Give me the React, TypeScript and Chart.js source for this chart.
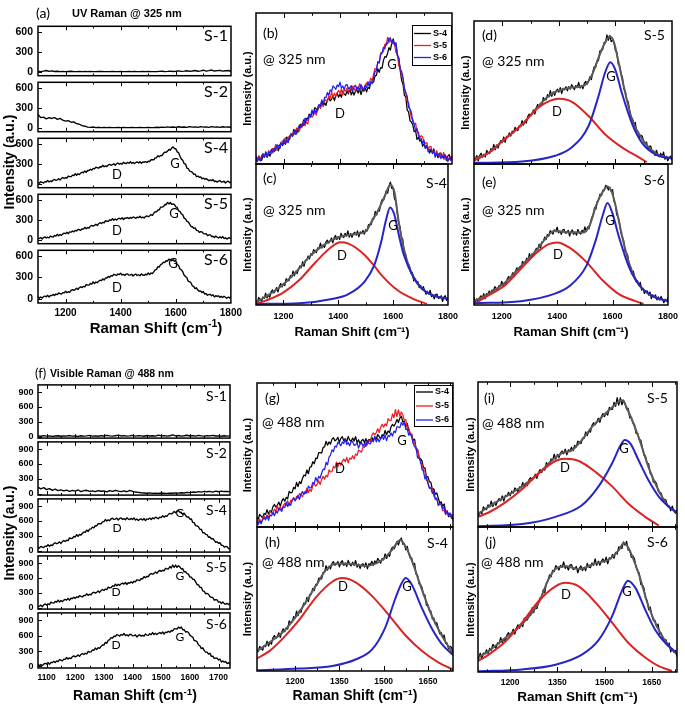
import React, { useEffect, useRef } from "react";
import { Chart, registerables } from "chart.js";

Chart.register(...registerables);

/* ======================= DATA ======================= */
// Raman-shift sampling of the measured spectra (cm^-1)
const UV_START = 1100;
const VIS_START = 1070;
const STEP_FINE = 5;
const STEP_COARSE = 10;

// Tick values
const UV_X_TICKS = [1200, 1400, 1600, 1800];
const UV_X_MINOR = [1300, 1500, 1700];
const UV_Y_TICKS = [0, 300, 600];
const VIS_STACK_X_TICKS = [1100, 1200, 1300, 1400, 1500, 1600, 1700];
const VIS_STACK_X_MINOR = [1150, 1250, 1350, 1450, 1550, 1650];
const VIS_Y_TICKS = [0, 300, 600, 900];
const VIS_FIT_X_TICKS = [1200, 1350, 1500, 1650];
const VIS_FIT_X_MINOR = [1125, 1275, 1425, 1575, 1725];

// UV (325 nm) spectra, counts
const UV_S1 = [6, 2, 9, 18, 4, 12, 3, 7, 1, 4, 0, 3, 6, 1, 2, 5, 0, 3, 1, 4, 2, 0, 3, 5, 1, 2, 0, 4, 2, 1, 3, 0, 2, 5, 1, 3, 0, 2, 4, 1, 3, 0, 2, 1, 4, 6, 2, 5, 9, 3, 7, 12, 4, 8, 14, 6, 11, 18, 7, 13, 22, 9, 16, 25, 10, 15, 20, 8, 14, 18, 6];
const UV_S2 = [200, 150, 158, 132, 150, 138, 152, 125, 140, 112, 98, 105, 82, 88, 60, 52, 30, 22, 8, 4, 10, 2, 6, 0, 4, 1, 3, 0, 2, 5, 1, 3, 0, 2, 4, 1, 0, 3, 2, 1, 4, 0, 2, 6, 3, 9, 4, 12, 6, 10, 5, 14, 7, 11, 4, 15, 8, 12, 5, 16, 9, 13, 6, 17, 8, 12, 5, 14, 9, 11, 7];
const UV_S4 = [
  16, 7, 29, 20, 11, 31, 25, 49, 27, 41,
  30, 55, 63, 50, 58, 74, 54, 79, 92, 77,
  92, 83, 115, 105, 105, 128, 120, 149, 127, 148,
  137, 158, 172, 164, 191, 170, 198, 197, 217, 204,
  228, 221, 246, 240, 232, 254, 250, 275, 253, 267,
  256, 281, 289, 276, 284, 299, 277, 300, 310, 292,
  305, 292, 320, 306, 301, 320, 307, 331, 303, 319,
  302, 318, 325, 311, 331, 304, 326, 319, 333, 316,
  336, 331, 359, 359, 359, 387, 389, 419, 403, 424,
  421, 455, 473, 470, 488, 513, 502, 534, 552, 524,
  523, 476, 465, 411, 368, 350, 301, 294, 235, 227,
  187, 182, 169, 139, 143, 104, 114, 97, 101, 74,
  84, 65, 78, 61, 44, 57, 45, 62, 33, 40,
  23, 42, 44, 25, 28, 37, 11, 30, 37, 16,
  27,
];
const UV_S5 = [
  13, 19, 32, 9, 32, 42, 25, 38, 26, 55,
  42, 40, 62, 53, 81, 57, 78, 65, 86, 98,
  89, 113, 90, 116, 113, 131, 117, 139, 131, 155,
  149, 141, 163, 159, 185, 165, 182, 174, 202, 213,
  203, 213, 231, 213, 240, 255, 242, 260, 252, 285,
  276, 275, 298, 288, 316, 291, 310, 295, 313, 322,
  309, 329, 303, 326, 319, 333, 315, 333, 322, 342,
  332, 320, 338, 330, 352, 327, 338, 324, 347, 356,
  344, 357, 377, 364, 396, 420, 417, 445, 447, 489,
  489, 496, 527, 524, 559, 536, 557, 530, 537, 525,
  491, 484, 431, 424, 388, 372, 323, 313, 274, 268,
  232, 198, 194, 171, 177, 139, 137, 111, 121, 116,
  91, 87, 91, 59, 72, 73, 47, 52, 32, 55,
  36, 27, 42, 26, 47, 16, 29, 9, 23, 29,
  13,
];
const UV_S6 = [
  32, 6, 24, 9, 28, 38, 26, 48, 24, 48,
  44, 61, 45, 66, 58, 81, 73, 64, 86, 81,
  106, 84, 99, 90, 118, 128, 118, 128, 146, 128,
  155, 169, 156, 174, 166, 199, 190, 190, 214, 206,
  236, 213, 235, 224, 246, 260, 253, 280, 261, 291,
  291, 313, 301, 325, 318, 343, 336, 327, 347, 339,
  359, 333, 342, 326, 346, 349, 331, 334, 344, 318,
  338, 346, 326, 337, 322, 349, 333, 327, 345, 334,
  361, 339, 361, 352, 377, 405, 412, 451, 444, 480,
  488, 514, 507, 533, 530, 555, 550, 533, 546, 526,
  535, 482, 466, 418, 407, 381, 334, 312, 297, 246,
  240, 225, 182, 174, 141, 153, 122, 104, 109, 86,
  101, 65, 73, 49, 59, 61, 41, 56, 25, 43,
  32, 42, 19, 33, 18, 35, 21, 6, 22, 11,
  30,
];

// Visible (488 nm) spectra, counts
const VIS_S1 = [12, 5, 18, 8, 14, 3, 10, 16, 6, 12, 9, 20, 7, 11, 4, 15, 8, 13, 22, 9, 14, 6, 18, 10, 25, 12, 8, 16, 30, 11, 19, 7, 14, 24, 9, 17, 12, 6, 21, 10, 15, 8, 28, 13, 18, 9, 16, 33, 12, 20, 8, 15, 26, 11, 17, 7, 22, 13, 9, 18, 12, 24, 10, 14, 6, 16, 9, 12];
const VIS_S2 = [130, 95, 120, 80, 100, 65, 88, 60, 75, 52, 68, 45, 62, 50, 72, 40, 58, 66, 44, 55, 38, 60, 46, 52, 35, 58, 42, 65, 48, 40, 55, 36, 62, 45, 30, 22, 15, 10, 6, 12, 4, 8, 2, 10, 5, 3, 9, 6, 12, 8, 15, 10, 22, 18, 30, 25, 38, 28, 45, 35, 42, 30, 48, 36, 50, 40, 45, 38];
const VIS_S4 = [
  62, 48, 83, 71, 58, 90, 82, 119, 86, 112,
  100, 141, 157, 138, 152, 175, 144, 182, 202, 182,
  210, 200, 255, 243, 247, 284, 274, 321, 290, 327,
  313, 350, 376, 369, 414, 386, 434, 438, 475, 460,
  502, 498, 543, 542, 539, 582, 585, 627, 598, 622,
  606, 643, 654, 630, 638, 656, 619, 649, 661, 630,
  646, 622, 663, 637, 627, 651, 629, 662, 617, 638,
  609, 631, 641, 618, 647, 606, 641, 633, 657, 630,
  660, 644, 677, 662, 645, 676, 667, 707, 676, 703,
  691, 735, 753, 740, 759, 790, 766, 799, 813, 771,
  775, 734, 758, 711, 679, 680, 634, 642, 570, 563,
  505, 499, 481, 429, 430, 360, 364, 327, 322, 269,
  274, 234, 243, 206, 168, 177, 145, 160, 104, 105,
  67, 85, 77, 38, 32,
];
const VIS_S5 = [
  16, 27, 49, 17, 54, 73, 50, 75, 60, 109,
  93, 90, 123, 108, 149, 111, 141, 119, 149, 166,
  150, 185, 149, 188, 183, 209, 185, 217, 204, 239,
  228, 214, 247, 240, 278, 246, 270, 255, 296, 310,
  293, 308, 334, 305, 344, 366, 346, 374, 362, 414,
  400, 402, 440, 428, 473, 438, 470, 449, 479, 494,
  475, 507, 467, 502, 494, 520, 496, 532, 522, 562,
  555, 546, 583, 582, 626, 601, 632, 624, 671, 689,
  675, 692, 720, 692, 732, 753, 732, 757, 742, 795,
  782, 781, 830, 802, 862, 811, 860, 813, 845, 824,
  781, 788, 722, 727, 687, 677, 616, 617, 572, 569,
  518, 466, 459, 410, 406, 339, 327, 279, 286, 269,
  219, 206, 204, 148, 161, 156, 110, 116, 82, 114,
  80, 65, 85, 59, 89,
];
const VIS_S6 = [
  47, 8, 36, 14, 43, 60, 43, 77, 40, 78,
  72, 98, 74, 107, 94, 131, 120, 107, 141, 135,
  174, 142, 166, 151, 191, 204, 186, 200, 225, 195,
  233, 253, 232, 257, 242, 294, 280, 283, 321, 312,
  359, 329, 366, 353, 391, 420, 416, 470, 452, 510,
  524, 563, 551, 591, 584, 620, 609, 593, 622, 610,
  643, 603, 618, 593, 623, 626, 597, 600, 615, 576,
  605, 618, 590, 610, 589, 634, 612, 607, 637, 622,
  662, 622, 648, 623, 648, 662, 641, 673, 632, 669,
  662, 689, 666, 702, 692, 736, 733, 727, 767, 747,
  771, 716, 717, 672, 681, 662, 611, 587, 574, 504,
  501, 481, 418, 403, 347, 363, 313, 279, 280, 240,
  257, 195, 201, 156, 163, 160, 124, 140, 85, 106,
  83, 94, 54, 72, 44,
];

// Fits, panel (c): UV S-4 (counts)
const C_FIT_X = [1100, 1150, 1200, 1250, 1300, 1350, 1400, 1450, 1500, 1520, 1545, 1570, 1590, 1605, 1620, 1640, 1665, 1690, 1720, 1760, 1800];
const C_FIT_Y = [8, 44, 89, 150, 220, 270, 302, 315, 328, 370, 423, 490, 540, 505, 375, 245, 145, 90, 55, 33, 24];
const C_D_X = [1100, 1151, 1199, 1258, 1318, 1377, 1407, 1437, 1496, 1532, 1556, 1615, 1675, 1723];
const C_D_Y = [0, 22, 51, 108, 190, 260, 279, 273, 222, 171, 133, 63, 22, 0];
const C_G_X = [1100, 1258, 1377, 1437, 1496, 1532, 1556, 1574, 1589, 1604, 1621, 1639, 1675, 1711, 1746, 1800];
const C_G_Y = [0, 3, 22, 44, 101, 178, 279, 380, 437, 406, 311, 222, 120, 63, 38, 22];

// Fits, panel (d): UV S-5 (counts)
const D_FIT_X = [1100, 1151, 1210, 1269, 1328, 1363, 1390, 1446, 1493, 1517, 1540, 1564, 1580, 1595, 1611, 1635, 1658, 1694, 1741, 1800];
const D_FIT_Y = [19, 43, 105, 167, 248, 291, 312, 329, 341, 384, 459, 527, 552, 527, 440, 304, 192, 105, 43, 19];
const D_D_X = [1100, 1151, 1210, 1269, 1328, 1370, 1400, 1446, 1505, 1564, 1623, 1682, 1711];
const D_D_Y = [10, 43, 105, 167, 242, 272, 280, 267, 205, 124, 68, 25, 3];
const D_G_X = [1100, 1269, 1387, 1446, 1505, 1540, 1564, 1582, 1599, 1623, 1658, 1694, 1741, 1800];
const D_G_Y = [0, 6, 31, 68, 161, 291, 397, 440, 409, 304, 174, 87, 37, 19];

// Fits, panel (e): UV S-6 (counts)
const E_FIT_X = [1100, 1151, 1210, 1269, 1328, 1363, 1390, 1446, 1493, 1517, 1540, 1564, 1582, 1597, 1611, 1635, 1658, 1694, 1741, 1800];
const E_FIT_Y = [13, 46, 98, 177, 255, 314, 341, 334, 334, 367, 459, 524, 550, 524, 459, 314, 197, 92, 39, 13];
const E_D_X = [1100, 1151, 1210, 1269, 1328, 1370, 1400, 1446, 1505, 1564, 1623, 1682, 1712];
const E_D_Y = [0, 39, 85, 164, 242, 280, 288, 262, 197, 111, 46, 13, 0];
const E_G_X = [1100, 1269, 1387, 1446, 1505, 1540, 1564, 1582, 1599, 1623, 1658, 1694, 1741, 1800];
const E_G_Y = [3, 13, 46, 85, 177, 301, 413, 472, 426, 314, 177, 92, 39, 13];

// Fits, panel (h): visible S-4 (envelope in counts, components in a.u.)
const H_FIT_X = [1071, 1114, 1158, 1214, 1270, 1304, 1337, 1382, 1438, 1494, 1528, 1556, 1573, 1595, 1629, 1662, 1696, 1735];
const H_FIT_Y = [53, 112, 179, 315, 490, 597, 640, 640, 626, 664, 732, 800, 761, 664, 470, 296, 160, 34];
const H_D_X = [1071, 1114, 1158, 1214, 1270, 1326, 1360, 1405, 1461, 1517, 1573, 1629, 1685, 1735];
const H_D_Y = [87, 140, 225, 355, 510, 620, 645, 615, 520, 390, 250, 140, 60, 10];
const H_G_X = [1071, 1214, 1326, 1405, 1461, 1505, 1539, 1561, 1575, 1595, 1629, 1662, 1696, 1735];
const H_G_Y = [5, 17, 35, 80, 150, 300, 500, 610, 645, 600, 440, 300, 190, 110];

// Fits, panel (i): visible S-5
const I_FIT_X = [1098, 1132, 1185, 1238, 1291, 1333, 1365, 1397, 1428, 1460, 1492, 1524, 1555, 1576, 1608, 1640, 1672, 1704, 1730];
const I_FIT_Y = [60, 110, 180, 250, 340, 430, 480, 500, 570, 660, 730, 795, 845, 765, 590, 380, 220, 110, 70];
const I_D_X = [1098, 1132, 1185, 1238, 1291, 1344, 1375, 1418, 1471, 1524, 1576, 1629, 1672];
const I_D_Y = [70, 100, 170, 260, 370, 455, 470, 455, 380, 280, 160, 70, 10];
const I_G_X = [1098, 1238, 1344, 1428, 1481, 1524, 1550, 1564, 1582, 1608, 1640, 1672, 1704, 1730];
const I_G_Y = [5, 20, 70, 150, 280, 440, 560, 600, 575, 460, 320, 210, 140, 100];

// Fits, panel (j): visible S-6
const J_FIT_X = [1098, 1132, 1185, 1238, 1291, 1322, 1344, 1375, 1418, 1471, 1513, 1545, 1561, 1576, 1608, 1640, 1672, 1704, 1730];
const J_FIT_Y = [50, 90, 172, 257, 392, 536, 599, 617, 599, 635, 657, 716, 761, 730, 572, 365, 221, 122, 68];
const J_D_X = [1098, 1132, 1185, 1238, 1291, 1344, 1375, 1418, 1471, 1524, 1576, 1629, 1672, 1714];
const J_D_Y = [76, 120, 210, 340, 490, 590, 615, 590, 480, 340, 200, 100, 40, 7];
const J_G_X = [1098, 1238, 1344, 1428, 1481, 1524, 1555, 1574, 1598, 1629, 1661, 1693, 1730];
const J_G_Y = [5, 18, 50, 120, 220, 385, 560, 630, 580, 430, 290, 200, 130];

/* ======================= STYLE ======================= */
const FONT = "'Liberation Sans', Arial, Helvetica, sans-serif";
const LABEL_FONT = "Lato, 'Open Sans', sans-serif";
const BLACK = "#000000";
const FIT_RED = "#dc2323";
const FIT_BLUE = "#2626c8";
const FIT_GRAY = "#5a5a5a";
const OV_RED = "#ee1c24";
const OV_BLUE = "#1f1ff2";
const X_TITLE = "Raman Shift (cm\u207B\u00B9)";
const Y_TITLE = "Intensity (a.u.)";

const grid = (start: number, step: number, ys: number[]) => ys.map((y, i) => ({ x: start + i * step, y }));
const pairs = (xs: number[], ys: number[]) => xs.map((x, i) => ({ x, y: ys[i] }));

const trace = (data: any[], color: string, order: number, label?: string, width = 1.25) => ({
  label: label || "",
  inLegend: !!label,
  data,
  borderColor: color,
  backgroundColor: color,
  borderWidth: width,
  pointRadius: 0,
  tension: 0,
  borderJoinStyle: "round",
  order,
  yAxisID: "y",
});
const curve = (data: any[], color: string, width: number, order: number, axis = "y") => ({
  data,
  borderColor: color,
  backgroundColor: color,
  borderWidth: width,
  pointRadius: 0,
  cubicInterpolationMode: "monotone",
  order,
  yAxisID: axis,
});

/* ======================= PLUGINS ======================= */
const frameTicks = {
  id: "frameTicks",
  afterDatasetsDraw(chart: any, _args: any, opts: any) {
    const { ctx, chartArea: a, scales } = chart;
    const xs = scales.x;
    const ys = scales.y;
    const len = opts.len || 4;
    ctx.save();
    ctx.strokeStyle = "#000";
    ctx.lineWidth = 1;
    ctx.beginPath();
    const vx = (vals: number[], l: number) => {
      (vals || []).forEach((v) => {
        const p = Math.round(xs.getPixelForValue(v)) + 0.5;
        if (p < a.left || p > a.right) return;
        ctx.moveTo(p, a.bottom);
        ctx.lineTo(p, a.bottom - l);
        ctx.moveTo(p, a.top);
        ctx.lineTo(p, a.top + l);
      });
    };
    vx(opts.xMajor, len);
    vx(opts.xMinor, len * 0.55);
    (opts.yMajor || []).forEach((v: number) => {
      const p = Math.round(ys.getPixelForValue(v)) + 0.5;
      if (p < a.top || p > a.bottom) return;
      ctx.moveTo(a.left, p);
      ctx.lineTo(a.left + len, p);
    });
    ctx.stroke();
    ctx.lineWidth = 1.5;
    ctx.strokeRect(a.left, a.top, a.right - a.left, a.bottom - a.top);
    ctx.restore();
  },
};

const insetLegend = {
  id: "insetLegend",
  afterDatasetsDraw(chart: any, _args: any, opts: any) {
    if (!opts || !opts.display) return;
    const { ctx, chartArea: a } = chart;
    const items = chart.data.datasets.filter((d: any) => d.inLegend);
    const w = opts.width;
    const h = opts.rowH * items.length + opts.pad * 2;
    const left = a.right - w;
    const top = a.top + opts.offsetTop;
    ctx.save();
    ctx.fillStyle = "#fff";
    ctx.fillRect(left, top, w, h);
    ctx.strokeStyle = "#000";
    ctx.lineWidth = 1;
    ctx.strokeRect(left + 0.5, top + 0.5, w - 1, h - 1);
    ctx.font = `bold 9px ${FONT}`;
    ctx.textBaseline = "middle";
    items.forEach((d: any, i: number) => {
      const cy = top + opts.pad + opts.rowH * (i + 0.5);
      ctx.strokeStyle = d.borderColor;
      ctx.lineWidth = 1.3;
      ctx.beginPath();
      ctx.moveTo(left + 2, cy);
      ctx.lineTo(left + 19, cy);
      ctx.stroke();
      ctx.fillStyle = "#000";
      ctx.fillText(d.label, left + 21, cy);
    });
    ctx.restore();
  },
};

/* ======================= PANELS ======================= */
type AxisDef = {
  min: number;
  max: number;
  labels?: number[];
  major?: number[];
  minor?: number[];
  font?: number;
  pad?: number;
  size?: number;
  title?: string;
  titleSize?: number;
};
type PanelDef = {
  id: string;
  box: { l: number; t: number; w: number; h: number };
  m: { l: number; t: number; r: number; b: number };
  x: AxisDef;
  y: AxisDef;
  fit?: { min: number; max: number };
  datasets: any[];
  legend?: { offsetTop: number; width: number; rowH: number; pad: number };
};

function buildConfig(d: PanelDef): any {
  const xShow = !!(d.x.labels || d.x.title);
  const yShow = !!(d.y.labels || d.y.title);
  const axis = (ax: AxisDef, horizontal: boolean, show: boolean) => {
    const o: any = {
      type: "linear",
      min: ax.min,
      max: ax.max,
      display: show,
      grid: { display: false, drawTicks: false },
      border: { display: false },
      ticks: {
        display: !!ax.labels,
        padding: ax.pad ?? 4,
        color: "#000",
        autoSkip: false,
        maxRotation: 0,
        font: { family: FONT, size: ax.font ?? 9, weight: "bold" },
        callback: (v: any) => String(v),
      },
      title: {
        display: !!ax.title,
        text: ax.title || "",
        color: "#000",
        padding: 0,
        font: { family: FONT, size: ax.titleSize ?? 11, weight: "bold" },
      },
    };
    if (ax.labels) {
      const vals = ax.labels;
      o.afterBuildTicks = (s: any) => {
        s.ticks = vals.map((v) => ({ value: v }));
      };
    }
    if (horizontal) {
      o.position = "bottom";
      o.afterFit = (s: any) => {
        s.height = show ? ax.size ?? 0 : 0;
      };
    } else {
      o.position = "left";
      o.afterFit = (s: any) => {
        s.width = show ? ax.size ?? 0 : 0;
      };
    }
    return o;
  };
  const scales: any = { x: axis(d.x, true, xShow), y: axis(d.y, false, yShow) };
  if (d.fit) scales.yFit = { type: "linear", display: false, min: d.fit.min, max: d.fit.max };
  return {
    type: "line",
    data: { datasets: d.datasets },
    options: {
      animation: false,
      responsive: false,
      maintainAspectRatio: false,
      devicePixelRatio: 1,
      events: [],
      layout: {
        padding: {
          left: d.m.l - (yShow ? d.y.size ?? 0 : 0),
          top: d.m.t,
          right: d.m.r,
          bottom: d.m.b - (xShow ? d.x.size ?? 0 : 0),
        },
      },
      plugins: {
        legend: { display: false },
        tooltip: { enabled: false },
        frameTicks: { xMajor: d.x.major, xMinor: d.x.minor, yMajor: d.y.major, len: d.box.h > 80 ? 5 : 4 },
        insetLegend: d.legend ? { display: true, ...d.legend } : { display: false },
      },
      scales,
    },
    plugins: [frameTicks, insetLegend],
  };
}

// ---- (a) UV stack ----
const A_SERIES = [
  grid(UV_START, STEP_COARSE, UV_S1),
  grid(UV_START, STEP_COARSE, UV_S2),
  grid(UV_START, STEP_FINE, UV_S4),
  grid(UV_START, STEP_FINE, UV_S5),
  grid(UV_START, STEP_FINE, UV_S6),
];
const A_TOPS = [23, 79, 135, 191, 247];
const stackA: PanelDef[] = A_SERIES.map((data, i) => {
  const last = i === A_SERIES.length - 1;
  return {
    id: "a" + i,
    box: { l: 38, t: A_TOPS[i], w: 193, h: 56 },
    m: { l: 38, t: 8, r: 15, b: last ? 18 : 8 },
    x: { min: 1100, max: 1800, major: UV_X_TICKS, minor: UV_X_MINOR, labels: last ? UV_X_TICKS : undefined, font: 10, pad: 4, size: 16 },
    y: { min: -60, max: 680, labels: UV_Y_TICKS, major: UV_Y_TICKS, font: 10.5, pad: 5, size: 30 },
    datasets: [trace(data, BLACK, 1, undefined, 1.35)],
  };
});

// ---- (f) visible stack ----
const F_SERIES = [
  grid(VIS_START, STEP_COARSE, VIS_S1),
  grid(VIS_START, STEP_COARSE, VIS_S2),
  grid(VIS_START, STEP_FINE, VIS_S4),
  grid(VIS_START, STEP_FINE, VIS_S5),
  grid(VIS_START, STEP_FINE, VIS_S6),
];
const F_TOPS = [383, 440, 497, 554, 611];
const stackF: PanelDef[] = F_SERIES.map((data, i) => {
  const last = i === F_SERIES.length - 1;
  return {
    id: "f" + i,
    box: { l: 38, t: F_TOPS[i], w: 192, h: 57 },
    m: { l: 38, t: 8, r: 12, b: last ? 16 : 8 },
    x: { min: 1070, max: 1740, major: VIS_STACK_X_TICKS, minor: VIS_STACK_X_MINOR, labels: last ? VIS_STACK_X_TICKS : undefined, font: 8.5, pad: 4.5, size: 14 },
    y: { min: -32, max: 1046, labels: VIS_Y_TICKS, major: VIS_Y_TICKS, font: 9, pad: 4.5, size: 30 },
    datasets: [trace(data, BLACK, 1, undefined, 1.35)],
  };
});

const uvX = { min: 1100, max: 1800, major: UV_X_TICKS, minor: UV_X_MINOR };
const uvXLab = { ...uvX, labels: UV_X_TICKS, font: 9, pad: 6, size: 35, title: X_TITLE, titleSize: 13 };

const fitPanels: PanelDef[] = [
  {
    id: "b",
    box: { l: 256, t: 13, w: 196, h: 151 },
    m: { l: 16, t: 4, r: 8, b: 4 },
    x: uvX,
    y: { min: -5, max: 667, size: 15, title: Y_TITLE, titleSize: 11 },
    datasets: [
      trace(grid(UV_START, STEP_FINE, UV_S4), BLACK, 3, "S-4"),
      trace(grid(UV_START, STEP_FINE, UV_S5), OV_RED, 2, "S-5"),
      trace(grid(UV_START, STEP_FINE, UV_S6), OV_BLUE, 1, "S-6"),
    ],
    legend: { offsetTop: 12, width: 40, rowH: 12, pad: 2.5 },
  },
  {
    id: "c",
    box: { l: 256, t: 164, w: 196, h: 141 },
    m: { l: 16, t: 4, r: 12, b: 36 },
    x: uvXLab,
    y: { min: -5, max: 634, size: 15, title: Y_TITLE, titleSize: 11 },
    datasets: [
      trace(grid(UV_START, STEP_FINE, UV_S4), BLACK, 4),
      curve(pairs(C_FIT_X, C_FIT_Y), FIT_GRAY, 2, 3),
      curve(pairs(C_D_X, C_D_Y), FIT_RED, 2, 2),
      curve(pairs(C_G_X, C_G_Y), FIT_BLUE, 2, 1),
    ],
  },
  {
    id: "d",
    box: { l: 474, t: 21, w: 198, h: 143 },
    m: { l: 16, t: 4, r: 12, b: 4 },
    x: uvX,
    y: { min: -5, max: 620, size: 15, title: Y_TITLE, titleSize: 11 },
    datasets: [
      trace(grid(UV_START, STEP_FINE, UV_S5), BLACK, 4),
      curve(pairs(D_FIT_X, D_FIT_Y), FIT_GRAY, 2, 3),
      curve(pairs(D_D_X, D_D_Y), FIT_RED, 2, 2),
      curve(pairs(D_G_X, D_G_Y), FIT_BLUE, 2, 1),
    ],
  },
  {
    id: "e",
    box: { l: 474, t: 164, w: 198, h: 141 },
    m: { l: 16, t: 4, r: 12, b: 36 },
    x: uvXLab,
    y: { min: -5, max: 655, size: 15, title: Y_TITLE, titleSize: 11 },
    datasets: [
      trace(grid(UV_START, STEP_FINE, UV_S6), BLACK, 4),
      curve(pairs(E_FIT_X, E_FIT_Y), FIT_GRAY, 2, 3),
      curve(pairs(E_D_X, E_D_Y), FIT_RED, 2, 2),
      curve(pairs(E_G_X, E_G_Y), FIT_BLUE, 2, 1),
    ],
  },
  {
    id: "g",
    box: { l: 257, t: 383, w: 196, h: 144 },
    m: { l: 17, t: 4, r: 8, b: 4 },
    x: { min: 1071, max: 1735, major: VIS_FIT_X_TICKS, minor: VIS_FIT_X_MINOR },
    y: { min: -10, max: 1060, size: 16, title: Y_TITLE, titleSize: 11 },
    datasets: [
      trace(grid(VIS_START, STEP_FINE, VIS_S4), BLACK, 3, "S-4"),
      trace(grid(VIS_START, STEP_FINE, VIS_S5), OV_RED, 2, "S-5"),
      trace(grid(VIS_START, STEP_FINE, VIS_S6), OV_BLUE, 1, "S-6"),
    ],
    legend: { offsetTop: 2, width: 39, rowH: 14, pad: 0 },
  },
  {
    id: "h",
    box: { l: 257, t: 527, w: 196, h: 144 },
    m: { l: 17, t: 4, r: 8, b: 35 },
    x: { min: 1071, max: 1735, major: VIS_FIT_X_TICKS, minor: VIS_FIT_X_MINOR, labels: VIS_FIT_X_TICKS, font: 8.5, pad: 6, size: 34, title: X_TITLE, titleSize: 14 },
    y: { min: -82, max: 888, size: 16, title: Y_TITLE, titleSize: 11 },
    fit: { min: 0, max: 1000 },
    datasets: [
      trace(grid(VIS_START, STEP_FINE, VIS_S4), BLACK, 4),
      curve(pairs(H_FIT_X, H_FIT_Y), FIT_GRAY, 2, 3),
      curve(pairs(H_D_X, H_D_Y), FIT_RED, 2, 2, "yFit"),
      curve(pairs(H_G_X, H_G_Y), FIT_BLUE, 2, 1, "yFit"),
    ],
  },
  {
    id: "i",
    box: { l: 478, t: 382, w: 199, h: 145 },
    m: { l: 15, t: 4, r: 7, b: 4 },
    x: { min: 1098, max: 1730, major: VIS_FIT_X_TICKS, minor: VIS_FIT_X_MINOR },
    y: { min: -30, max: 970, size: 14, title: Y_TITLE, titleSize: 11 },
    fit: { min: 0, max: 1000 },
    datasets: [
      trace(grid(VIS_START, STEP_FINE, VIS_S5), BLACK, 4),
      curve(pairs(I_FIT_X, I_FIT_Y), FIT_GRAY, 2, 3),
      curve(pairs(I_D_X, I_D_Y), FIT_RED, 2, 2, "yFit"),
      curve(pairs(I_G_X, I_G_Y), FIT_BLUE, 2, 1, "yFit"),
    ],
  },
  {
    id: "j",
    box: { l: 478, t: 527, w: 199, h: 145 },
    m: { l: 15, t: 4, r: 7, b: 33 },
    x: { min: 1098, max: 1730, major: VIS_FIT_X_TICKS, minor: VIS_FIT_X_MINOR, labels: VIS_FIT_X_TICKS, font: 8.5, pad: 5.5, size: 33, title: X_TITLE, titleSize: 13.5 },
    y: { min: -40, max: 860, size: 14, title: Y_TITLE, titleSize: 11 },
    fit: { min: 0, max: 1000 },
    datasets: [
      trace(grid(VIS_START, STEP_FINE, VIS_S6), BLACK, 4),
      curve(pairs(J_FIT_X, J_FIT_Y), FIT_GRAY, 2, 3),
      curve(pairs(J_D_X, J_D_Y), FIT_RED, 2, 2, "yFit"),
      curve(pairs(J_G_X, J_G_Y), FIT_BLUE, 2, 1, "yFit"),
    ],
  },
];

const PANELS: PanelDef[] = [...stackA, ...stackF, ...fitPanels];

/* ======================= TEXT ANNOTATIONS ======================= */
type Note = { t: string; x: number; y: number; s: number; a?: "l" | "c" | "r"; b?: boolean; f?: string; rot?: boolean; sup?: string };
const NOTES: Note[] = [
  { t: "(a)", x: 36, y: 13, s: 14 },
  { t: "UV Raman @ 325 nm", x: 72, y: 13, s: 11, b: true, f: FONT },
  { t: "S-1", x: 228, y: 35, s: 16, a: "r" },
  { t: "S-2", x: 228, y: 91, s: 16, a: "r" },
  { t: "S-4", x: 228, y: 147, s: 16, a: "r" },
  { t: "S-5", x: 228, y: 203, s: 16, a: "r" },
  { t: "S-6", x: 228, y: 259, s: 16, a: "r" },
  { t: "D", x: 117, y: 174, s: 13, a: "c" },
  { t: "G", x: 175, y: 163, s: 13, a: "c" },
  { t: "D", x: 117, y: 230, s: 13, a: "c" },
  { t: "G", x: 174, y: 213, s: 13, a: "c" },
  { t: "D", x: 117, y: 287, s: 13, a: "c" },
  { t: "G", x: 173, y: 263, s: 13, a: "c" },
  { t: "Intensity (a.u.)", x: 9, y: 162, s: 14, b: true, f: FONT, rot: true },
  { t: "Raman Shift (cm", sup: "-1", x: 156, y: 327, s: 15, b: true, f: FONT, a: "c" },

  { t: "(b)", x: 263, y: 33, s: 14 },
  { t: "@ 325 nm", x: 263, y: 59, s: 14 },
  { t: "D", x: 340, y: 113, s: 13, a: "c" },
  { t: "G", x: 392, y: 64, s: 13, a: "c" },
  { t: "(c)", x: 263, y: 178, s: 14 },
  { t: "@ 325 nm", x: 263, y: 210, s: 14 },
  { t: "S-4", x: 447, y: 183, s: 14, a: "r" },
  { t: "D", x: 342, y: 255, s: 13, a: "c" },
  { t: "G", x: 393, y: 225, s: 13, a: "c" },
  { t: "(d)", x: 482, y: 35, s: 14 },
  { t: "@ 325 nm", x: 482, y: 61, s: 14 },
  { t: "S-5", x: 665, y: 35, s: 14, a: "r" },
  { t: "D", x: 557, y: 111, s: 13, a: "c" },
  { t: "G", x: 611, y: 76, s: 13, a: "c" },
  { t: "(e)", x: 482, y: 182, s: 14 },
  { t: "@ 325 nm", x: 482, y: 210, s: 14 },
  { t: "S-6", x: 665, y: 180, s: 14, a: "r" },
  { t: "D", x: 558, y: 254, s: 13, a: "c" },
  { t: "G", x: 610, y: 220, s: 13, a: "c" },

  { t: "(f)", x: 35, y: 373, s: 13 },
  { t: "Visible Raman @ 488 nm", x: 50, y: 373, s: 10.5, b: true, f: FONT },
  { t: "S-1", x: 227, y: 396, s: 14, a: "r" },
  { t: "S-2", x: 227, y: 453, s: 14, a: "r" },
  { t: "S-4", x: 227, y: 510, s: 14, a: "r" },
  { t: "S-5", x: 227, y: 567, s: 14, a: "r" },
  { t: "S-6", x: 227, y: 624, s: 14, a: "r" },
  { t: "D", x: 117, y: 528, s: 12, a: "c" },
  { t: "G", x: 180, y: 513, s: 12, a: "c" },
  { t: "D", x: 116, y: 592, s: 12, a: "c" },
  { t: "G", x: 180, y: 576, s: 12, a: "c" },
  { t: "D", x: 116, y: 645, s: 12, a: "c" },
  { t: "G", x: 180, y: 637, s: 12, a: "c" },
  { t: "Intensity (a.u.)", x: 9, y: 533, s: 14, b: true, f: FONT, rot: true },
  { t: "Raman Shift (cm", sup: "-1", x: 135, y: 695, s: 14, b: true, f: FONT, a: "c" },

  { t: "(g)", x: 265, y: 398, s: 14 },
  { t: "@ 488 nm", x: 262, y: 422, s: 14 },
  { t: "D", x: 340, y: 468, s: 13, a: "c" },
  { t: "G", x: 402, y: 440, s: 13, a: "c" },
  { t: "(h)", x: 265, y: 542, s: 14 },
  { t: "@ 488 nm", x: 262, y: 562, s: 14 },
  { t: "S-4", x: 448, y: 543, s: 14, a: "r" },
  { t: "D", x: 343, y: 586, s: 13, a: "c" },
  { t: "G", x: 407, y: 586, s: 13, a: "c" },
  { t: "(i)", x: 484, y: 398, s: 14 },
  { t: "@ 488 nm", x: 482, y: 423, s: 14 },
  { t: "S-5", x: 668, y: 398, s: 14, a: "r" },
  { t: "D", x: 565, y: 467, s: 13, a: "c" },
  { t: "G", x: 624, y: 448, s: 13, a: "c" },
  { t: "(j)", x: 485, y: 542, s: 14 },
  { t: "@ 488 nm", x: 481, y: 562, s: 14 },
  { t: "S-6", x: 668, y: 542, s: 14, a: "r" },
  { t: "D", x: 566, y: 594, s: 13, a: "c" },
  { t: "G", x: 627, y: 591, s: 13, a: "c" },
];

function Panel({ def }: { def: PanelDef }) {
  const ref = useRef<HTMLCanvasElement>(null);
  useEffect(() => {
    if (!ref.current) return;
    const chart = new Chart(ref.current, buildConfig(def));
    return () => chart.destroy();
  }, [def]);
  const W = def.box.w + def.m.l + def.m.r;
  const H = def.box.h + def.m.t + def.m.b;
  return (
    <canvas
      ref={ref}
      width={W}
      height={H}
      style={{ position: "absolute", left: def.box.l - def.m.l, top: def.box.t - def.m.t, width: W, height: H }}
    />
  );
}

function NoteText({ n }: { n: Note }) {
  const a = n.a || "l";
  let transform = a === "l" ? "translate(0,-50%)" : a === "c" ? "translate(-50%,-50%)" : "translate(-100%,-50%)";
  if (n.rot) transform = "translate(-50%,-50%) rotate(-90deg)";
  return (
    <div
      style={{
        position: "absolute",
        left: n.x,
        top: n.y,
        transform,
        fontFamily: n.f || LABEL_FONT,
        fontSize: n.s,
        fontWeight: n.b ? 700 : 400,
        lineHeight: 1,
        whiteSpace: "nowrap",
        color: "#000",
      }}
    >
      {n.t}
      {n.sup ? <sup style={{ fontSize: "0.7em", verticalAlign: "0.55em", lineHeight: 0 }}>{n.sup}</sup> : null}
      {n.sup ? ")" : null}
    </div>
  );
}

export default function App() {
  return (
    <div style={{ position: "absolute", left: 0, top: 0, width: 685, height: 705, background: "#fff", overflow: "hidden" }}>
      {PANELS.map((p) => (
        <Panel key={p.id} def={p} />
      ))}
      {NOTES.map((n, i) => (
        <NoteText key={i} n={n} />
      ))}
    </div>
  );
}
